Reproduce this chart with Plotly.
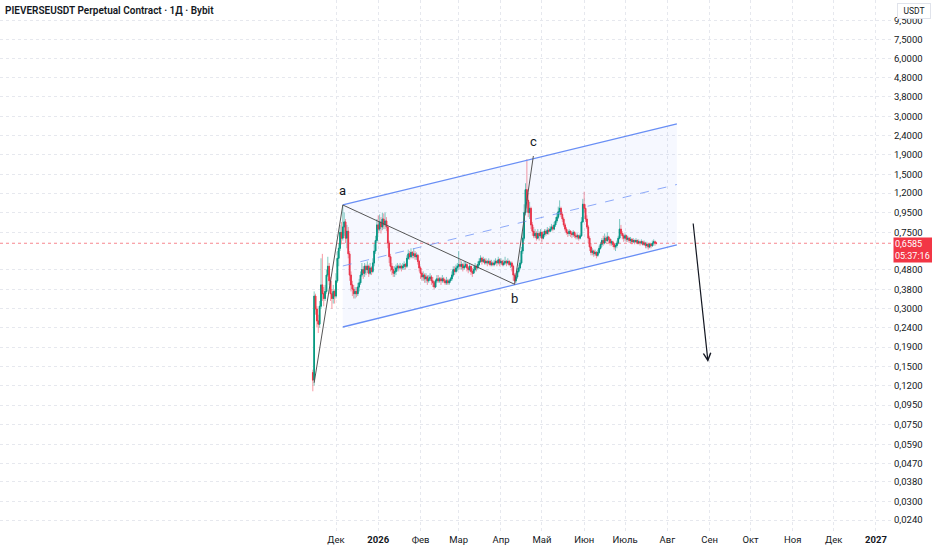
import numpy as np
import pandas as pd
from plotly import graph_objects as go

GREEN = '#089981'
RED = '#F23645'
GREEN_WICK = 'rgba(8, 153, 129, 0.5)'
RED_WICK = 'rgba(242, 54, 69, 0.5)'
CHANNEL = 'rgb(104, 142, 245)'

TITLE = 'PIEVERSEUSDT Perpetual Contract · 1Д · Bybit'
FIRST_DAY = '2025-11-14'
FIRST_OPEN = 0.14

# daily candles (one row = 10 days)
close = [
    0.128, 0.35, 0.30, 0.26, 0.25, 0.31, 0.40, 0.36, 0.34, 0.37,
    0.45, 0.50, 0.42, 0.36, 0.34, 0.37, 0.35, 0.42, 0.55, 0.62,
    0.75, 0.70, 0.80, 0.85, 0.70, 0.76, 0.58, 0.45, 0.40, 0.38,
    0.36, 0.37, 0.36, 0.39, 0.41, 0.45, 0.48, 0.46, 0.50, 0.48,
    0.50, 0.46, 0.49, 0.47, 0.52, 0.60, 0.68, 0.82, 0.78, 0.85,
    0.80, 0.88, 0.82, 0.86, 0.80, 0.66, 0.56, 0.50, 0.48, 0.46,
    0.47, 0.49, 0.50, 0.49, 0.50, 0.49, 0.50, 0.51, 0.50, 0.55,
    0.58, 0.56, 0.59, 0.57, 0.58, 0.56, 0.57, 0.53, 0.49, 0.46,
    0.44, 0.45, 0.43, 0.44, 0.42, 0.43, 0.44, 0.42, 0.41, 0.39,
    0.42, 0.43, 0.42, 0.43, 0.42, 0.43, 0.42, 0.41, 0.42, 0.41,
    0.42, 0.43, 0.45, 0.48, 0.47, 0.49, 0.50, 0.51, 0.50, 0.51,
    0.49, 0.50, 0.51, 0.49, 0.48, 0.50, 0.47, 0.46, 0.48, 0.50,
    0.49, 0.51, 0.53, 0.55, 0.53, 0.54, 0.52, 0.53, 0.52, 0.53,
    0.51, 0.52, 0.51, 0.52, 0.53, 0.52, 0.54, 0.52, 0.53, 0.51,
    0.52, 0.53, 0.52, 0.53, 0.51, 0.52, 0.50, 0.45, 0.42, 0.44,
    0.47, 0.49, 0.52, 0.60, 0.70, 0.95, 1.25, 1.10, 0.95, 1.00,
    0.82, 0.76, 0.72, 0.74, 0.70, 0.74, 0.72, 0.75, 0.70, 0.73,
    0.76, 0.74, 0.77, 0.76, 0.78, 0.80, 0.78, 0.82, 0.86, 0.90,
    0.96, 1.00, 0.93, 0.88, 0.82, 0.78, 0.75, 0.74, 0.76, 0.74,
    0.73, 0.75, 0.72, 0.71, 0.72, 0.70, 0.72, 0.85, 1.05, 1.00,
    0.88, 0.80, 0.70, 0.63, 0.59, 0.60, 0.58, 0.59, 0.57, 0.59,
    0.62, 0.65, 0.68, 0.66, 0.70, 0.68, 0.71, 0.69, 0.66, 0.67,
    0.65, 0.63, 0.64, 0.66, 0.70, 0.78, 0.74, 0.72, 0.70, 0.72,
    0.69, 0.70, 0.68, 0.69, 0.67, 0.68, 0.67, 0.68, 0.66, 0.67,
    0.66, 0.67, 0.65, 0.66, 0.64, 0.65, 0.63, 0.65, 0.64, 0.66,
    0.67, 0.66, 0.6585,
]
high = [
    0.145, 0.37, 0.36, 0.31, 0.28, 0.33, 0.55, 0.58, 0.39, 0.40,
    0.48, 0.56, 0.52, 0.44, 0.38, 0.40, 0.38, 0.46, 0.60, 0.66,
    0.82, 0.85, 1.04, 0.95, 0.88, 0.82, 0.80, 0.60, 0.47, 0.42,
    0.40, 0.39, 0.39, 0.41, 0.43, 0.47, 0.52, 0.50, 0.52, 0.51,
    0.53, 0.51, 0.52, 0.50, 0.55, 0.65, 0.72, 0.88, 0.92, 0.93,
    0.90, 0.95, 0.94, 0.95, 0.90, 0.82, 0.68, 0.58, 0.52, 0.50,
    0.50, 0.51, 0.52, 0.51, 0.52, 0.51, 0.52, 0.53, 0.52, 0.57,
    0.61, 0.60, 0.62, 0.60, 0.62, 0.60, 0.59, 0.58, 0.54, 0.50,
    0.47, 0.47, 0.46, 0.46, 0.45, 0.45, 0.46, 0.45, 0.44, 0.42,
    0.43, 0.45, 0.45, 0.44, 0.44, 0.45, 0.44, 0.43, 0.44, 0.43,
    0.43, 0.44, 0.47, 0.50, 0.50, 0.51, 0.52, 0.60, 0.54, 0.53,
    0.52, 0.53, 0.53, 0.52, 0.50, 0.52, 0.50, 0.49, 0.50, 0.52,
    0.51, 0.53, 0.55, 0.57, 0.56, 0.56, 0.55, 0.55, 0.54, 0.55,
    0.54, 0.54, 0.53, 0.54, 0.55, 0.54, 0.56, 0.55, 0.55, 0.54,
    0.54, 0.56, 0.54, 0.55, 0.54, 0.53, 0.53, 0.51, 0.46, 0.46,
    0.49, 0.51, 0.54, 0.63, 0.75, 1.05, 1.35, 1.80, 1.20, 1.08,
    1.02, 0.85, 0.80, 0.78, 0.76, 0.78, 0.76, 0.78, 0.76, 0.76,
    0.78, 0.78, 0.80, 0.79, 0.81, 0.83, 0.82, 0.85, 0.90, 0.95,
    1.02, 1.10, 1.02, 0.96, 0.90, 0.84, 0.80, 0.77, 0.78, 0.77,
    0.76, 0.77, 0.76, 0.74, 0.74, 0.73, 0.74, 0.90, 1.12, 1.22,
    1.05, 0.92, 0.82, 0.72, 0.66, 0.62, 0.61, 0.61, 0.60, 0.61,
    0.64, 0.67, 0.70, 0.72, 0.74, 0.72, 0.75, 0.72, 0.70, 0.69,
    0.68, 0.66, 0.66, 0.68, 0.72, 0.88, 0.82, 0.76, 0.74, 0.74,
    0.73, 0.72, 0.71, 0.71, 0.70, 0.70, 0.69, 0.70, 0.69, 0.69,
    0.68, 0.69, 0.68, 0.68, 0.67, 0.67, 0.66, 0.66, 0.66, 0.68,
    0.69, 0.68, 0.67,
]
low = [
    0.112, 0.12, 0.28, 0.24, 0.225, 0.24, 0.30, 0.33, 0.31, 0.33,
    0.36, 0.44, 0.40, 0.33, 0.30, 0.32, 0.32, 0.34, 0.41, 0.50,
    0.60, 0.65, 0.68, 0.72, 0.66, 0.62, 0.55, 0.42, 0.37, 0.35,
    0.34, 0.34, 0.345, 0.35, 0.37, 0.40, 0.44, 0.43, 0.44, 0.45,
    0.46, 0.44, 0.45, 0.45, 0.46, 0.50, 0.58, 0.66, 0.74, 0.76,
    0.74, 0.77, 0.78, 0.78, 0.76, 0.62, 0.52, 0.47, 0.45, 0.44,
    0.44, 0.45, 0.47, 0.47, 0.48, 0.47, 0.48, 0.48, 0.48, 0.49,
    0.54, 0.54, 0.55, 0.55, 0.55, 0.54, 0.54, 0.51, 0.47, 0.43,
    0.42, 0.42, 0.41, 0.41, 0.40, 0.41, 0.42, 0.40, 0.39, 0.38,
    0.385, 0.41, 0.41, 0.41, 0.40, 0.41, 0.41, 0.40, 0.40, 0.40,
    0.40, 0.41, 0.42, 0.44, 0.45, 0.46, 0.47, 0.48, 0.48, 0.48,
    0.47, 0.48, 0.49, 0.47, 0.46, 0.47, 0.45, 0.44, 0.46, 0.47,
    0.47, 0.48, 0.50, 0.52, 0.51, 0.52, 0.51, 0.51, 0.50, 0.51,
    0.50, 0.50, 0.50, 0.50, 0.51, 0.50, 0.51, 0.50, 0.51, 0.50,
    0.50, 0.51, 0.50, 0.51, 0.50, 0.49, 0.47, 0.42, 0.40, 0.41,
    0.43, 0.46, 0.48, 0.51, 0.58, 0.68, 0.92, 1.00, 0.90, 0.88,
    0.78, 0.72, 0.70, 0.70, 0.68, 0.69, 0.68, 0.70, 0.67, 0.69,
    0.71, 0.72, 0.73, 0.73, 0.75, 0.76, 0.76, 0.77, 0.80, 0.84,
    0.88, 0.92, 0.90, 0.85, 0.80, 0.76, 0.73, 0.71, 0.72, 0.71,
    0.70, 0.71, 0.70, 0.69, 0.69, 0.68, 0.69, 0.71, 0.84, 0.95,
    0.85, 0.78, 0.66, 0.60, 0.57, 0.57, 0.56, 0.565, 0.55, 0.56,
    0.58, 0.61, 0.63, 0.64, 0.65, 0.66, 0.67, 0.66, 0.64, 0.64,
    0.63, 0.61, 0.60, 0.62, 0.65, 0.69, 0.72, 0.69, 0.67, 0.68,
    0.67, 0.67, 0.66, 0.66, 0.65, 0.66, 0.65, 0.66, 0.65, 0.65,
    0.64, 0.65, 0.64, 0.64, 0.62, 0.62, 0.61, 0.62, 0.62, 0.63,
    0.64, 0.64, 0.65,
]

# drawings on the chart
channel_dates = ['2025-12-06', '2026-08-08']
channel_upper = [1.041, 2.745]
channel_lower = [0.2417, 0.645]
wave_dates = ['2025-11-15', '2025-12-06', '2026-04-11', '2026-04-24 18:00']
wave_prices = [0.124, 1.041, 0.403, 1.871]
wave_labels = ['', 'a', 'b', 'c']
arrow_dates = ['2026-08-19 20:00', '2026-08-30 20:00']
arrow_prices = [0.849, 0.159]
countdown = '05:37:16'

# axes
x_range = ['2025-03-29 14:00', '2027-01-13 12:00']
y_range = [0.02079, 12.10]
month_ticks = ['2025-12-01', '2026-01-01', '2026-02-01', '2026-03-01', '2026-04-01',
               '2026-05-01', '2026-06-01', '2026-07-01', '2026-08-01', '2026-09-01',
               '2026-10-01', '2026-11-01', '2026-12-01', '2027-01-01']
month_labels = ['Дек', '<b>2026</b>', 'Фев', 'Мар', 'Апр', 'Май', 'Июн', 'Июль',
                'Авг', 'Сен', 'Окт', 'Ноя', 'Дек', '<b>2027</b>']
# 0,6000 sits under the last price label in the picture, so it is left out
price_ticks = [9.5, 7.5, 6.0, 4.8, 3.8, 3.0, 2.4, 1.9, 1.5, 1.2, 0.95, 0.75,
               0.48, 0.38, 0.30, 0.24, 0.19, 0.15, 0.12, 0.095, 0.075, 0.059,
               0.047, 0.038, 0.030, 0.024]


def ru_num(v):
    return f'{v:.4f}'.replace('.', ',')


dates = pd.date_range(FIRST_DAY, periods=len(close), freq='D')
close_a = np.array(close)
open_a = np.concatenate([[FIRST_OPEN], close_a[:-1]])
high_a = np.maximum(np.array(high), np.maximum(open_a, close_a))
low_a = np.minimum(np.array(low), np.minimum(open_a, close_a))
body_top = np.maximum(open_a, close_a)
body_bot = np.minimum(open_a, close_a)
last = close[-1]

fig = go.Figure()

# channel background
fig.add_trace(go.Scatter(x=[channel_dates[0], channel_dates[1], channel_dates[1], channel_dates[0]],
                         y=[channel_upper[0], channel_upper[1], channel_lower[1], channel_lower[0]],
                         fill='toself', fillcolor='rgba(41, 98, 255, 0.045)',
                         line={'width': 0}, mode='lines', hoverinfo='skip'))

# price line
fig.add_trace(go.Scatter(x=x_range, y=[last, last], mode='lines', hoverinfo='skip',
                         line={'color': 'rgba(242, 54, 69, 0.6)', 'width': 1, 'dash': 'dot'}))

# wicks (light) and bodies (solid)
fig.add_trace(go.Candlestick(x=dates, open=open_a, high=high_a, low=low_a, close=close_a,
                             increasing={'line': {'color': GREEN_WICK, 'width': 1}, 'fillcolor': GREEN_WICK},
                             decreasing={'line': {'color': RED_WICK, 'width': 1}, 'fillcolor': RED_WICK},
                             whiskerwidth=0, hoverinfo='skip'))
fig.add_trace(go.Candlestick(x=dates, open=open_a, high=body_top, low=body_bot, close=close_a,
                             increasing={'line': {'color': GREEN, 'width': 1}, 'fillcolor': GREEN},
                             decreasing={'line': {'color': RED, 'width': 1}, 'fillcolor': RED},
                             whiskerwidth=0, hoverinfo='skip'))

# channel lines
fig.add_trace(go.Scatter(x=channel_dates, y=channel_upper, mode='lines', hoverinfo='skip',
                         line={'color': CHANNEL, 'width': 1.3}))
fig.add_trace(go.Scatter(x=channel_dates, y=channel_lower, mode='lines', hoverinfo='skip',
                         line={'color': CHANNEL, 'width': 1.3}))
mid = np.sqrt(np.array(channel_upper) * np.array(channel_lower))
fig.add_trace(go.Scatter(x=channel_dates, y=mid, mode='lines', hoverinfo='skip',
                         line={'color': 'rgba(104, 142, 245, 0.75)', 'width': 1, 'dash': 'dash'}))

# abc wave
fig.add_trace(go.Scatter(x=wave_dates, y=wave_prices, mode='lines', hoverinfo='skip',
                         line={'color': '#555555', 'width': 1}))

shifts = {'a': 14, 'b': -14, 'c': 14}
for d, p, t in zip(wave_dates, wave_prices, wave_labels):
    if not t:
        continue
    fig.add_annotation(x=d, y=np.log10(p), text=t, showarrow=False, yshift=shifts[t],
                       font={'size': 13, 'color': '#131722'})

# arrow down
fig.add_annotation(x=arrow_dates[1], y=np.log10(arrow_prices[1]),
                   ax=arrow_dates[0], ay=np.log10(arrow_prices[0]),
                   axref='x', ayref='y', xref='x', yref='y', text='',
                   showarrow=True, arrowhead=5, arrowsize=1.2, arrowwidth=1.2,
                   arrowcolor='#131722')

# title, currency box and last price label
fig.add_annotation(xref='paper', yref='paper', x=0, y=1, xanchor='left', yanchor='top',
                   xshift=3, yshift=-3, text=TITLE, showarrow=False,
                   font={'size': 10, 'color': '#131722', 'weight': 600})
fig.add_annotation(xref='paper', yref='paper', x=1, y=1, xanchor='left', yanchor='top',
                   xshift=4, yshift=-3, text='USDT', showarrow=False,
                   font={'size': 8.5, 'color': '#131722'}, bgcolor='white',
                   bordercolor='#e0e3eb', borderwidth=1, borderpad=2, width=28)
fig.add_annotation(xref='paper', yref='y', x=1, y=np.log10(last), xanchor='left', yanchor='top',
                   xshift=0, yshift=6, text=f'{ru_num(last)}<br>{countdown}', showarrow=False,
                   align='left', font={'size': 9, 'color': 'white'}, bgcolor=RED,
                   borderpad=1, width=36)

fig.update_layout(width=932, height=550,
                  margin={'l': 0, 'r': 39, 't': 0, 'b': 18},
                  paper_bgcolor='white', plot_bgcolor='white',
                  showlegend=False, hovermode=False,
                  font={'family': 'Roboto', 'size': 10, 'color': '#131722'})
fig.update_xaxes(type='date', range=x_range, tickvals=month_ticks, ticktext=month_labels,
                 showgrid=True, gridcolor='#e6e8ee', griddash='dot', zeroline=False,
                 showline=False, ticks='', rangeslider={'visible': False},
                 tickfont={'size': 9.5})
fig.update_yaxes(type='log', side='right', range=[np.log10(y_range[0]), np.log10(y_range[1])],
                 tickvals=price_ticks, ticktext=[ru_num(v) for v in price_ticks],
                 showgrid=True, gridcolor='#e6e8ee', griddash='dot', zeroline=False,
                 showline=False, ticks='', tickfont={'size': 9.5})

# page margin off so the 932x550 figure fills the window exactly
fig.write_html('out.html', config={'displayModeBar': False},
               post_script="document.body.style.margin = '0';")
